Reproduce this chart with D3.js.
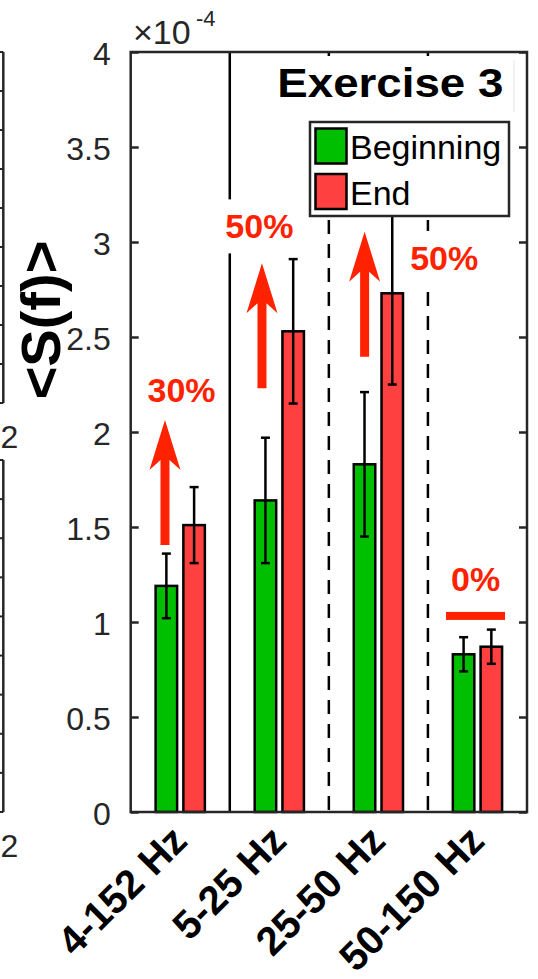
<!DOCTYPE html>
<html>
<head>
<meta charset="utf-8">
<script src="https://cdn.jsdelivr.net/npm/d3@7"></script>
<style>
  html, body { margin: 0; padding: 0; background: #fff; }
  svg { display: block; font-family: "Liberation Sans", Arial, Helvetica, sans-serif; }
</style>
</head>
<body>
<div id="chart"></div>
<script>
// ---------------- data ----------------
const categories = ["4-152 Hz", "5-25 Hz", "25-50 Hz", "50-150 Hz"];
const seriesNames = ["Beginning", "End"];
const beginning = [1.19, 1.64, 1.83, 0.83];
const beginningErr = [0.17, 0.33, 0.38, 0.09];
const endValues = [1.51, 2.53, 2.73, 0.87];
const endErr = [0.20, 0.38, 0.48, 0.09];
const yTicks = [0, 0.5, 1, 1.5, 2, 2.5, 3, 3.5, 4];
const yTickLabels = ["0", "0.5", "1", "1.5", "2", "2.5", "3", "3.5", "4"];
const yExponent = "-4";
const separatorsSolid = [1.5];
const separatorsDashed = [2.5, 3.5];
// change annotations (data coordinates)
const changeLabels = ["30%", "50%", "50%", "0%"];
const changeLabelX = [1.013, 1.799, 3.664, 3.982];
const changeLabelY = [2.159, 3.019, 2.853, 1.165];
const arrowX = [0.846, 1.825, 2.861];
const arrowFrom = [1.405, 2.23, 2.396];
const arrowTo = [2.063, 2.888, 3.054];
const flatLineX = [3.683, 4.278];
const flatLineY = 1.032;
const titleText = "Exercise 3";
const yLabelText = "<S(f)>";
// neighbouring panel fragment (left edge of figure)
const fragTicks = [0, 1, 2, 3, 4, 5, 6, 7, 8, 9];
const fragTickLabel = "2";

// ---------------- layout ----------------
const W = 538, H = 979;
const red = "#ff2200";
const axisColor = "#262626";
const x = d3.scaleLinear().domain([0.5, 4.5]).range([130.7, 527]);
const y = d3.scaleLinear().domain([0, 4]).range([812, 52]);
const barW = 0.217, barOff = 0.14;
const lw = 2.5;

const svg = d3.select("#chart").append("svg").attr("width", W).attr("height", H);

// --- left fragment of neighbouring axes ---
const fragUpper = d3.scaleLinear().domain([0, 9]).range([403, 52]);
const fragLower = d3.scaleLinear().domain([0, 9]).range([812, 460]);
[fragUpper, fragLower].forEach(s => {
  const g = svg.append("g");
  g.append("line").attr("x1", 3.3).attr("x2", 3.3).attr("y1", s(0)).attr("y2", s(9))
    .attr("stroke", axisColor).attr("stroke-width", lw);
  g.selectAll("line.t").data(fragTicks).enter().append("line").attr("class", "t")
    .attr("x1", -4).attr("x2", 3.3).attr("y1", d => s(d)).attr("y2", d => s(d))
    .attr("stroke", axisColor).attr("stroke-width", 2);
  g.append("text").attr("x", 0.5).attr("y", s(0) + 45).attr("font-size", 32)
    .attr("fill", axisColor).text(fragTickLabel);
});

// --- separators ---
svg.selectAll("line.sepSolid").data(separatorsSolid).enter().append("line")
  .attr("class", "sepSolid")
  .attr("x1", d => x(d)).attr("x2", d => x(d)).attr("y1", y(0)).attr("y2", y(4))
  .attr("stroke", "#000").attr("stroke-width", lw);
svg.selectAll("line.sepDash").data(separatorsDashed).enter().append("line")
  .attr("class", "sepDash")
  .attr("x1", d => x(d)).attr("x2", d => x(d)).attr("y1", y(4)).attr("y2", y(0))
  .attr("stroke", "#000").attr("stroke-width", lw).attr("stroke-dasharray", "14,10");

// --- bars ---
const series = [
  { name: seriesNames[0], values: beginning, err: beginningErr, off: -barOff, color: "#00bf00" },
  { name: seriesNames[1], values: endValues, err: endErr, off: barOff, color: "#ff4040" }
];
series.forEach(s => {
  const g = svg.append("g");
  g.selectAll("rect").data(s.values).enter().append("rect")
    .attr("x", (d, i) => x(i + 1 + s.off - barW / 2))
    .attr("width", x(barW) - x(0))
    .attr("y", d => y(d))
    .attr("height", d => y(0) - y(d))
    .attr("fill", s.color).attr("stroke", "#000").attr("stroke-width", lw);
  const eb = g.selectAll("g.eb").data(s.values).enter().append("g").attr("class", "eb");
  eb.append("line")
    .attr("x1", (d, i) => x(i + 1 + s.off)).attr("x2", (d, i) => x(i + 1 + s.off))
    .attr("y1", (d, i) => y(d - s.err[i])).attr("y2", (d, i) => y(d + s.err[i]))
    .attr("stroke", "#000").attr("stroke-width", lw);
  [-1, 1].forEach(sign => {
    eb.append("line")
      .attr("x1", (d, i) => x(i + 1 + s.off) - 4.5).attr("x2", (d, i) => x(i + 1 + s.off) + 4.5)
      .attr("y1", (d, i) => y(d + sign * s.err[i])).attr("y2", (d, i) => y(d + sign * s.err[i]))
      .attr("stroke", "#000").attr("stroke-width", lw);
  });
});

// --- change labels with white background ---
const lblG = svg.append("g");
changeLabels.forEach((t, i) => {
  const txt = lblG.append("text")
    .attr("x", x(changeLabelX[i])).attr("y", y(changeLabelY[i]))
    .attr("text-anchor", "middle").attr("font-size", 34).attr("font-weight", "bold")
    .attr("fill", red).text(t);
  const bb = txt.node().getBBox();
  lblG.insert("rect", "text")
    .attr("x", bb.x - 12).attr("y", bb.y - 8).attr("width", bb.width + 24).attr("height", bb.height + 16)
    .attr("fill", "#fff");
});

// --- arrows ---
arrowX.forEach((ax, i) => {
  const cx = x(ax), yb = y(arrowFrom[i]), yt = y(arrowTo[i]);
  const sw = 4.5, hw = 15.5, hl = 50, notch = 40;
  const pts = [[cx - sw, yb], [cx - sw, yt + notch], [cx - hw, yt + hl], [cx, yt],
               [cx + hw, yt + hl], [cx + sw, yt + notch], [cx + sw, yb]];
  svg.append("path").attr("d", d3.line()(pts) + "Z").attr("fill", red);
});
// flat (0%) marker
svg.append("rect")
  .attr("x", x(flatLineX[0])).attr("width", x(flatLineX[1]) - x(flatLineX[0]))
  .attr("y", y(flatLineY) - 4).attr("height", 8).attr("fill", red);

// --- title with white background ---
svg.append("rect").attr("x", 245).attr("y", 56).attr("width", 269).attr("height", 65).attr("fill", "#fff");
svg.append("line").attr("x1", 514).attr("x2", 514).attr("y1", 60).attr("y2", 112)
  .attr("stroke", "#e4e4e4").attr("stroke-width", 1);
svg.append("text").attr("x", 503.3).attr("y", 97).attr("text-anchor", "end")
  .attr("font-size", 41).attr("font-weight", "bold").attr("fill", "#000")
  .attr("textLength", 226).attr("lengthAdjust", "spacingAndGlyphs").text(titleText);

// --- legend ---
const lg = svg.append("g");
lg.append("rect").attr("x", 310).attr("y", 122).attr("width", 199).attr("height", 94)
  .attr("fill", "#fff").attr("stroke", axisColor).attr("stroke-width", lw);
series.forEach((s, i) => {
  lg.append("rect").attr("x", 315.5).attr("y", 128.5 + i * 45.5).attr("width", 31).attr("height", 35)
    .attr("fill", s.color).attr("stroke", "#000").attr("stroke-width", lw);
  lg.append("text").attr("x", 350).attr("y", 158.5 + i * 46).attr("font-size", 34)
    .attr("fill", "#000").text(s.name);
});

// --- axes box and ticks ---
const axG = svg.append("g");
axG.append("rect").attr("x", x(0.5)).attr("y", y(4)).attr("width", x(4.5) - x(0.5)).attr("height", y(0) - y(4))
  .attr("fill", "none").attr("stroke", axisColor).attr("stroke-width", lw);
const yAxisL = d3.axisLeft(y).tickValues(yTicks).tickSize(-8).tickPadding(20)
  .tickFormat((d, i) => yTickLabels[i]);
const gl = axG.append("g").attr("transform", `translate(${x(0.5)},0)`).call(yAxisL);
gl.select(".domain").remove();
gl.selectAll(".tick line").attr("stroke", axisColor).attr("stroke-width", lw);
gl.selectAll(".tick text").attr("font-size", 32).attr("fill", axisColor)
  .attr("font-family", "'Liberation Sans', Arial, sans-serif").attr("dy", "0.40em");
const yAxisR = d3.axisRight(y).tickValues(yTicks).tickSize(-8).tickFormat("");
const gr = axG.append("g").attr("transform", `translate(${x(4.5)},0)`).call(yAxisR);
gr.select(".domain").remove();
gr.selectAll(".tick line").attr("stroke", axisColor).attr("stroke-width", lw);

// exponent
svg.append("text").attr("x", 133).attr("y", 43.5).attr("font-size", 34).attr("fill", axisColor).text("×10");
svg.append("text").attr("x", 196).attr("y", 25.5).attr("font-size", 22).attr("fill", axisColor).text(yExponent);

// x category labels (rotated)
svg.selectAll("text.xl").data(categories).enter().append("text").attr("class", "xl")
  .attr("transform", (d, i) => `translate(${x(i + 1) + 9},${843}) rotate(-45)`)
  .attr("text-anchor", "end").attr("font-size", 40).attr("font-weight", "bold")
  .attr("fill", "#000").text(d => d);

// y label
svg.append("text").attr("transform", "translate(60,320) rotate(-90)")
  .attr("text-anchor", "middle").attr("font-size", 56).attr("font-weight", "bold")
  .attr("fill", "#000").text(yLabelText);
</script>
</body>
</html>
